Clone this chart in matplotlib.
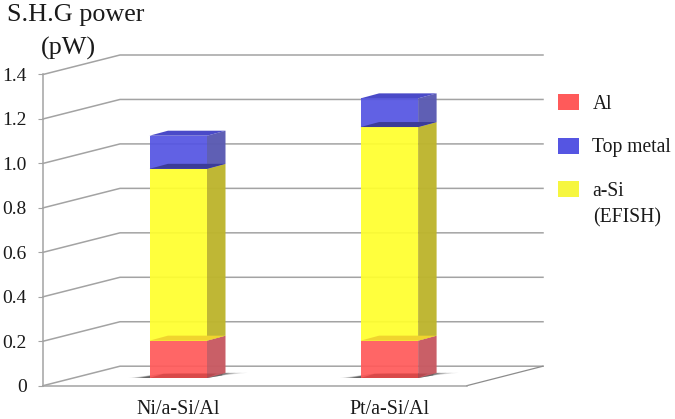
import matplotlib
matplotlib.use("Agg")
import matplotlib.pyplot as plt
from matplotlib.patches import Polygon, Patch

plt.rcParams['font.family'] = ['Liberation Serif', 'DejaVu Serif']

categories = ['Ni/a-Si/Al', 'Pt/a-Si/Al']
series_names = ['Al', 'Top metal', 'a-Si']
al = [0.168, 0.168]
a_si = [0.773, 0.961]
top_metal = [0.149, 0.129]
y_ticks = [0, 0.2, 0.4, 0.6, 0.8, 1.0, 1.2, 1.4]
y_tick_labels = ['0', '0.2', '0.4', '0.6', '0.8', '1.0', '1.2', '1.4']

W, H = 675, 419
L, R, B, T = 43, 466.7, 385.7, 74.5
C0, C1 = 178.25, 389.35   # pixel centres of the two categories
fig = plt.figure(figsize=(W / 100, H / 100), dpi=100)
ax = fig.add_axes([L / W, 1 - B / H, (R - L) / W, (B - T) / H])
px = C1 - C0              # pixels per category
py = (B - T) / 1.4        # pixels per unit value
xmin, xmax = (L - C0) / px, (R - C0) / px
ax.set_xlim(xmin, xmax)
ax.set_ylim(0, 1.4)

wall_dx, wall_dy = 77 / px, 19.5 / py
back_right = xmax + 76.3 / px
bar_w = 57.5 / px
bar_dx, bar_dy = 18.5 / px, 5 / py
base = 7.7 / py
grid_c = '#a3a3a3'

for v in y_ticks:
    ax.plot([xmin, xmin + wall_dx, back_right], [v, v + wall_dy, v + wall_dy],
            color=grid_c, lw=1.1, clip_on=False, zorder=1)
ax.plot([xmax, back_right], [0, wall_dy], color='#8c8c8c', lw=0.9, clip_on=False, zorder=1)

# soft shadow under each bar
for i in range(len(categories)):
    x0, x1 = i - bar_w / 2, i + bar_w / 2
    for k, a in zip([1.0, 0.85, 0.7, 0.55, 0.4], [0.10, 0.16, 0.22, 0.28, 0.34]):
        sl, sr = 21 * k / px, 41 * k / px
        ax.add_patch(Polygon([(x0 - sl, base), (x0 + 10 / px, base + bar_dy * 0.8),
                              (x0 + 30 / px, base + bar_dy), (x1 + sr * 0.45, base + bar_dy),
                              (x1 + sr, base + bar_dy * 1.05), (x1 + bar_dx * 0.8, base + bar_dy * 0.5),
                              (x1, base)],
                             closed=True, fc='#2a2a2a', ec='none', alpha=a, clip_on=False, zorder=2))

seg_vals = [al, a_si, top_metal]
front_c = ['#ff5a5a', '#ffff2e', '#5555e2']
side_c = ['#c85a62', '#bdb52e', '#5a5ab2']
cap_c = ['#f0d42e', '#3c3c98', '#4a4ac8']

for i in range(len(categories)):
    bottom = base
    for vals, fc, sc, tc in zip(seg_vals, front_c, side_c, cap_c):
        h = vals[i]
        x0, x1 = i - bar_w / 2, i + bar_w / 2
        ax.bar(i, h, bar_w, bottom=bottom, color=fc, alpha=0.93, lw=0, zorder=4, clip_on=False)
        ax.add_patch(Polygon([(x1, bottom), (x1 + bar_dx, bottom + bar_dy),
                              (x1 + bar_dx, bottom + h + bar_dy), (x1, bottom + h)],
                             closed=True, fc=sc, ec='none', alpha=0.97, zorder=3, clip_on=False))
        ax.add_patch(Polygon([(x0, bottom + h), (x0 + bar_dx, bottom + h + bar_dy),
                              (x1 + bar_dx, bottom + h + bar_dy), (x1, bottom + h)],
                             closed=True, fc=tc, ec='none', zorder=5, clip_on=False))
        bottom += h
    # shadow seen through the foot of the translucent bar
    ax.add_patch(Polygon([(x0, base), (x0 + 14 / px, base + bar_dy * 0.85), (x1 + bar_dx * 0.5, base + bar_dy * 0.85),
                          (x1, base)],
                         closed=True, fc='#801010', ec='none', alpha=0.22, zorder=6, clip_on=False))

for s in ['top', 'right']:
    ax.spines[s].set_visible(False)
for s in ['left', 'bottom']:
    ax.spines[s].set_color(grid_c)
    ax.spines[s].set_linewidth(1.1)
ax.patch.set_alpha(0)

ax.set_yticks(y_ticks)
ax.set_yticklabels(y_tick_labels, fontsize=14, color='#1a1a1a')
ax.tick_params(axis='y', length=3.6, width=0.8, color=grid_c, pad=8)
ax.set_xticks(range(len(categories)))
ax.set_xticklabels(categories, fontsize=14.4, color='#1a1a1a')
ax.tick_params(axis='x', length=0, pad=10)

fig.text(76 / W, 1 - 15 / H, 'S.H.G power', fontsize=18.8, color='#1a1a1a', ha='center', va='center')
fig.text(68 / W, 1 - 48 / H, '(pW)', fontsize=18.8, color='#1a1a1a', ha='center', va='center')

handles = [Patch(fc=front_c[0], ec='none'), Patch(fc=front_c[2], ec='none'), Patch(fc='#f6f640', ec='none')]
fs = 14.1
fpx = fs * 100 / 72
leg = fig.legend(handles, series_names, loc='upper left', frameon=False, fontsize=fs,
                 bbox_to_anchor=(557.5 / W, 1 - 94.5 / H), bbox_transform=fig.transFigure,
                 borderpad=0, borderaxespad=0, handlelength=21.5 / fpx, handleheight=17 / fpx,
                 handletextpad=13.5 / fpx, labelspacing=1.2, labelcolor='#1a1a1a')
fig.text(593 / W, 1 - 218 / H, '(EFISH)', fontsize=fs, color='#1a1a1a', ha='left', va='center')

fig.savefig('out.png', dpi=100)
